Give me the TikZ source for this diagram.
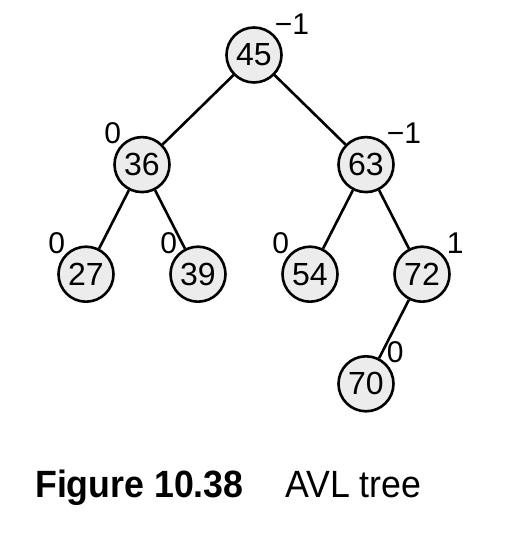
\documentclass[tikz,border=0pt]{standalone}
\usepackage{fontspec}
\setmainfont{Liberation Sans}
\newfontfamily\capfont[FakeStretch=0.94]{Liberation Sans}
\usetikzlibrary{positioning}

\begin{document}
\begin{tikzpicture}[x=1pt,y=1pt,node distance=52pt,
      vert/.style={circle,draw,line width=2.6pt,fill=gray!15,minimum size=55pt,inner sep=0pt,font=\fontsize{32}{37}\selectfont},
      bal/.style={inner sep=1pt,font=\fontsize{30}{35}\selectfont},
      every label/.style={bal},label distance=-1pt,
      edge/.style={line width=2.6pt}]
      \useasboundingbox (0,0) rectangle (526,538);
      \node[vert,label=45:−1]                                   (T45) at (254,483) {45};
      \node[vert,below=of T45,xshift=-112pt,label=135:0]        (T36) {36};
      \node[vert,below=of T45,xshift= 112pt,label=45:−1]        (T63) {63};
      \node[vert,below=of T36,xshift=-56pt,label=135:0]         (T27) {27};
      \node[vert,below=of T36,xshift= 56pt,label=135:0]         (T39) {39};
      \node[vert,below=of T63,xshift=-56pt,label=135:0]         (T54) {54};
      \node[vert,below=of T63,xshift= 56pt,label={[xshift=4pt]45:1}] (T72) {72};
      \node[vert,below=of T72,xshift=-56pt,label=45:0]          (T70) {70};

      \draw[edge] (T45) -- (T36)  (T45) -- (T63)
                  (T36) -- (T27)  (T36) -- (T39)
                  (T63) -- (T54)  (T63) -- (T72)
                  (T72) -- (T70);

      \node[anchor=base west,inner sep=0pt,font=\capfont\bfseries\fontsize{38}{44}\selectfont] (FigNum)   at (35,40)  {Figure 10.38};
      \node[anchor=base west,inner sep=0pt,font=\capfont\fontsize{38}{44}\selectfont]          (FigTitle) at (285,40) {AVL tree};
\end{tikzpicture}
\end{document}
